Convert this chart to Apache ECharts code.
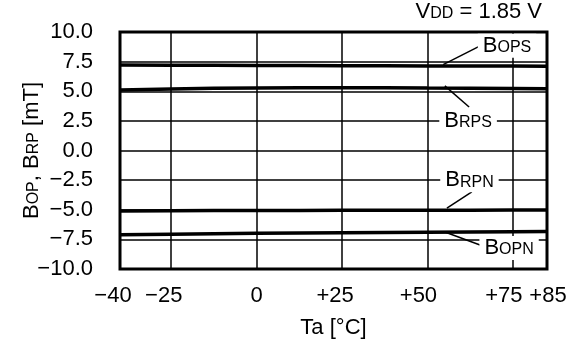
<!DOCTYPE html>
<html><head><meta charset="utf-8">
<script src="https://cdn.jsdelivr.net/npm/echarts@6/dist/echarts.min.js"></script>
<style>html,body{margin:0;padding:0;background:#fff}#c{width:579px;height:345px}</style>
</head><body><div id="c"></div>
<script>
// ---- data ----
const temps = [-40, -25, 0, 25, 50, 75, 85];
const xTicks = [-40, -25, 0, 25, 50, 75, 85];
const xGridValues = [-25, 0, 25, 50, 75];
const bOPS = [7.22, 7.20, 7.18, 7.16, 7.14, 7.13, 7.12];
const bRPS = [5.11, 5.20, 5.28, 5.30, 5.27, 5.24, 5.22];
const bRPN = [-5.10, -5.08, -5.06, -5.05, -5.04, -5.03, -5.03];
const bOPN = [-7.11, -7.06, -6.99, -6.94, -6.90, -6.86, -6.84];
const seriesNames = ['OPS', 'RPS', 'RPN', 'OPN'];
// annotation anchors in data coordinates
const labelAt = [[73.3, 8.83], [61.9, 2.5], [62.3, -2.5], [73.9, -8.23]];
const leaderFrom = [[54.6, 7.25], [55.1, 5.45], [55.7, -4.86], [55.1, -6.88]];
const leaderTo = [[66.0, 8.91], [62.2, 3.67], [63.0, -3.5], [65.4, -7.98]];

// ---- style ----
const FONT = 'Liberation Sans, Arial, sans-serif';
const BIG = 22, SMALL = 16;
const xLabelShift = {'-40': -7, '-25': -7.5, '0': 0, '25': -7, '50': -9, '75': -9, '85': 1};
const fmtNum = v => (v < 0 ? '\u2212' + Math.abs(v) : (v > 0 ? '+' + v : '' + v));
const rich = {};
xTicks.forEach((t, i) => {
  const d = xLabelShift[String(t)] || 0;
  rich['p' + i] = {fontSize: BIG, fontFamily: FONT, color: '#000',
    padding: d < 0 ? [0, -2 * d, 0, 0] : [0, 0, 0, 2 * d]};
});
const subRich = {
  b: {fontSize: BIG, fontFamily: FONT, color: '#000'},
  s: {fontSize: SMALL, fontFamily: FONT, color: '#000', verticalAlign: 'bottom', padding: [0, 0, 1, 0]}
};

const lineSeries = [bOPS, bRPS, bRPN, bOPN].map((arr, k) => ({
  type: 'line', name: seriesNames[k], smooth: true, showSymbol: false, silent: true, z: 5,
  data: temps.map((t, i) => [t, arr[i]]),
  lineStyle: {color: '#000', width: 3.5}
}));
lineSeries[0].markLine = {
  silent: true, symbol: 'none', animation: false, label: {show: false},
  lineStyle: {color: '#000', width: 1.5, type: 'solid'},
  data: xGridValues.map(v => ({xAxis: v}))
};

const annoSeries = {
  type: 'line', data: [], z: 10, silent: true,
  markLine: {
    silent: true, symbol: 'none', animation: false, label: {show: false},
    lineStyle: {color: '#000', width: 1.5, type: 'solid'},
    data: leaderFrom.map((f, i) => [{coord: f}, {coord: leaderTo[i]}])
  },
  markPoint: {
    silent: true, symbol: 'rect', symbolSize: 0, animation: false,
    data: labelAt.map((c, i) => ({
      coord: c,
      label: {
        show: true, position: 'inside', formatter: '{b|B}{s|' + seriesNames[i] + '}',
        backgroundColor: '#fff', padding: [1, 5, 1, 5], rich: subRich
      }
    }))
  }
};

const chart = echarts.init(document.getElementById('c'), null, {renderer: 'canvas'});
chart.setOption({
  animation: false,
  backgroundColor: '#fff',
  textStyle: {fontFamily: FONT},
  grid: {left: 120, right: 32, top: 32, bottom: 76, show: true, borderColor: '#000', borderWidth: 3,
    backgroundColor: 'transparent', containLabel: false, outerBoundsMode: 'none'},
  xAxis: {
    type: 'value', min: -40, max: 85,
    axisLine: {show: false}, axisTick: {show: false}, splitLine: {show: false},
    axisLabel: {
      customValues: xTicks, margin: 16,
      formatter: v => '{p' + xTicks.indexOf(v) + '|' + fmtNum(v) + '}', rich: rich
    },
    name: 'Ta [\u00B0C]', nameLocation: 'middle', nameGap: 48, nameMoveOverlap: false,
    nameTextStyle: {fontSize: BIG, fontFamily: FONT, color: '#000'}
  },
  yAxis: {
    type: 'value', min: -10, max: 10, interval: 2.5,
    axisLine: {show: false}, axisTick: {show: false},
    splitLine: {show: true, lineStyle: {color: '#000', width: 1.5}},
    axisLabel: {
      margin: 27, fontSize: BIG, fontFamily: FONT, color: '#000',
      formatter: v => (v < 0 ? '\u2212' : '') + Math.abs(v).toFixed(1)
    },
    name: '{b|B}{s|OP}{b|, B}{s|RP}{b| [mT]}', nameLocation: 'middle', nameGap: 77, nameRotate: 90,
    nameMoveOverlap: false,
    nameTextStyle: {rich: subRich}
  },
  graphic: [{
    type: 'text', right: 37, top: 1,
    style: {
      text: '{b|V}{s|DD}{b| = 1.85 V}', rich: subRich, fill: '#000'
    }
  }],
  series: lineSeries.concat([annoSeries])
});
</script>
</body></html>
